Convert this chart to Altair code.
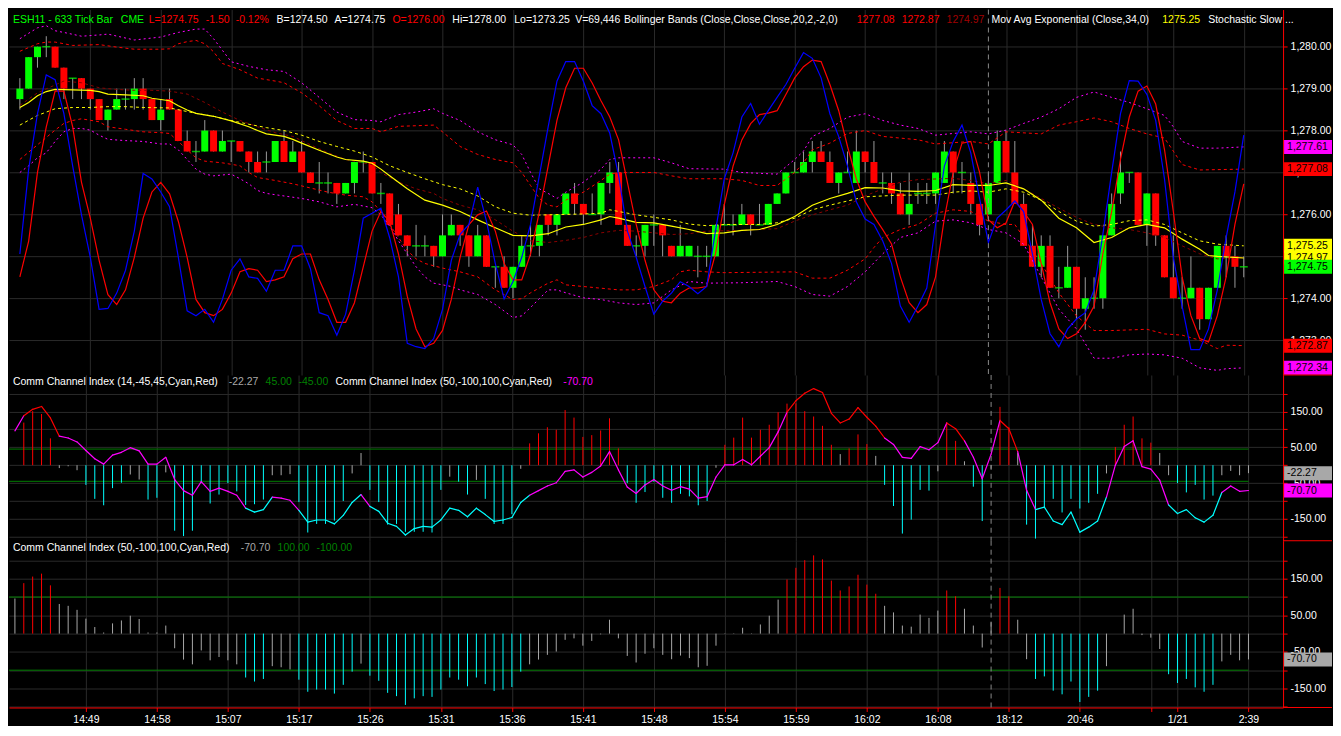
import json
import altair as alt
import pandas as pd

# ---------------- data ----------------
opens = [1278.75, 1279.0, 1279.75, 1280.0, 1280.0, 1279.5, 1279.25, 1279.25, 1279.0, 1278.75,
         1278.25, 1278.5, 1278.75, 1278.75, 1279.0, 1278.75, 1278.25, 1278.75, 1278.5, 1277.75,
         1277.5, 1277.5, 1278.0, 1277.5, 1277.75, 1277.75, 1277.5, 1277.25, 1277.25, 1277.25,
         1277.75, 1277.25, 1277.5, 1277.0, 1276.75, 1276.75, 1276.75, 1276.5, 1276.75, 1277.25,
         1277.25, 1276.5, 1276.5, 1276.0, 1275.5, 1275.25, 1275.25, 1275.25, 1275.0, 1275.5,
         1275.75, 1275.5, 1275.0, 1275.5, 1274.75, 1274.75, 1274.25, 1274.75, 1275.25, 1275.25,
         1276.0, 1275.75, 1276.0, 1276.5, 1276.25, 1276.0, 1276.0, 1276.75, 1277.0, 1275.75,
         1275.25, 1275.25, 1275.75, 1275.75, 1275.25, 1275.0, 1275.0, 1275.0, 1275.0, 1275.0,
         1275.75, 1275.75, 1275.75, 1276.0, 1275.75, 1275.75, 1276.25, 1276.5, 1277.0, 1277.0,
         1277.25, 1277.5, 1277.25, 1276.75, 1277.0, 1276.75, 1277.5, 1277.25, 1276.75, 1276.75,
         1276.5, 1276.0, 1276.5, 1276.5, 1276.5, 1276.75, 1277.5, 1277.0, 1276.75, 1276.25,
         1276.0, 1276.75, 1277.75, 1277.0, 1276.25, 1275.25, 1274.75, 1275.25, 1274.25, 1274.25,
         1274.75, 1273.75, 1274.0, 1274.0, 1275.5, 1276.5, 1277.0, 1277.0, 1275.75, 1276.5,
         1275.5, 1274.5, 1274.0, 1274.0, 1274.25, 1273.5, 1274.25, 1275.25, 1275.0, 1274.75]
closes = [1279.0, 1279.75, 1280.0, 1280.0, 1279.5, 1279.0, 1279.25, 1279.0, 1278.75, 1278.25,
          1278.5, 1278.75, 1278.75, 1279.0, 1278.75, 1278.25, 1278.5, 1278.5, 1277.75, 1277.5,
          1277.5, 1278.0, 1277.5, 1277.75, 1277.75, 1277.5, 1277.25, 1277.0, 1277.25, 1277.75,
          1277.25, 1277.5, 1277.0, 1276.75, 1276.75, 1276.75, 1276.5, 1276.75, 1277.25, 1277.25,
          1276.5, 1276.5, 1275.75, 1275.5, 1275.25, 1275.25, 1275.25, 1275.0, 1275.5, 1275.75,
          1275.5, 1275.0, 1275.5, 1274.75, 1274.75, 1274.25, 1274.75, 1275.25, 1275.25, 1275.75,
          1275.75, 1276.0, 1276.5, 1276.25, 1276.0, 1276.0, 1276.75, 1277.0, 1275.75, 1275.25,
          1275.25, 1275.75, 1275.75, 1275.5, 1275.0, 1275.25, 1275.25, 1275.0, 1275.0, 1275.75,
          1275.75, 1275.75, 1276.0, 1275.75, 1275.75, 1276.25, 1276.5, 1277.0, 1277.0, 1277.25,
          1277.5, 1277.25, 1276.75, 1277.0, 1277.0, 1277.5, 1277.25, 1276.75, 1276.75, 1276.5,
          1276.0, 1276.25, 1276.5, 1276.5, 1277.0, 1277.5, 1277.0, 1277.0, 1276.25, 1275.75,
          1276.75, 1277.75, 1277.0, 1276.25, 1275.25, 1274.75, 1275.25, 1274.25, 1274.25, 1274.75,
          1273.75, 1274.0, 1274.0, 1275.5, 1276.25, 1277.0, 1277.0, 1275.75, 1276.5, 1275.5,
          1274.5, 1274.0, 1274.0, 1274.25, 1273.5, 1274.25, 1275.25, 1275.0, 1274.75, 1274.75]
highs = [1279.25, 1279.75, 1280.0, 1280.25, 1280.0, 1279.5, 1279.25, 1279.25, 1279.0, 1278.75,
         1278.5, 1279.0, 1279.0, 1279.25, 1279.25, 1278.75, 1278.75, 1279.0, 1278.5, 1278.0,
         1277.75, 1278.25, 1278.0, 1278.0, 1277.75, 1277.75, 1277.5, 1277.5, 1277.5, 1277.75,
         1278.0, 1277.75, 1277.75, 1277.0, 1277.25, 1277.0, 1276.75, 1276.75, 1277.25, 1277.5,
         1277.25, 1276.75, 1276.5, 1276.25, 1275.5, 1275.75, 1275.5, 1275.25, 1276.0, 1276.0,
         1275.75, 1275.5, 1275.75, 1275.5, 1274.75, 1275.0, 1274.75, 1275.5, 1275.75, 1275.75,
         1276.0, 1276.0, 1276.5, 1276.75, 1276.25, 1276.5, 1276.75, 1277.25, 1277.25, 1275.75,
         1275.5, 1275.75, 1276.0, 1275.75, 1275.25, 1275.75, 1275.25, 1275.25, 1275.25, 1275.75,
         1276.25, 1276.0, 1276.25, 1276.0, 1276.25, 1276.25, 1276.5, 1277.0, 1277.25, 1277.5,
         1277.75, 1277.75, 1277.5, 1277.0, 1277.5, 1278.0, 1277.5, 1277.75, 1277.0, 1277.0,
         1276.75, 1277.0, 1276.75, 1276.75, 1277.0, 1277.75, 1277.5, 1277.25, 1277.0, 1276.25,
         1277.0, 1278.0, 1278.0, 1277.75, 1276.5, 1275.75, 1275.5, 1275.5, 1274.75, 1275.25,
         1274.75, 1274.5, 1274.5, 1275.5, 1276.5, 1277.5, 1277.0, 1277.0, 1276.5, 1276.5,
         1275.5, 1275.5, 1274.5, 1275.0, 1274.25, 1274.25, 1275.25, 1275.5, 1275.25, 1275.0]
lows = [1278.5, 1279.0, 1279.5, 1279.75, 1279.5, 1278.75, 1278.75, 1278.75, 1278.5, 1278.25,
        1278.0, 1278.5, 1278.5, 1278.5, 1278.5, 1278.25, 1278.0, 1278.5, 1277.75, 1277.5,
        1277.25, 1277.5, 1277.5, 1277.5, 1277.25, 1277.5, 1277.0, 1277.0, 1277.0, 1277.25,
        1277.25, 1277.25, 1277.0, 1276.75, 1276.5, 1276.5, 1276.25, 1276.5, 1276.5, 1277.0,
        1276.5, 1276.25, 1275.75, 1275.5, 1275.0, 1275.0, 1275.0, 1274.75, 1275.0, 1275.5,
        1275.25, 1274.75, 1275.0, 1274.75, 1274.25, 1274.25, 1274.0, 1274.75, 1275.0, 1275.0,
        1275.5, 1275.5, 1276.0, 1276.0, 1275.75, 1276.0, 1275.75, 1276.5, 1275.75, 1275.25,
        1275.0, 1275.0, 1275.25, 1275.0, 1275.0, 1275.0, 1275.0, 1274.5, 1274.75, 1275.0,
        1275.75, 1275.5, 1275.75, 1275.5, 1275.75, 1275.75, 1276.25, 1276.5, 1277.0, 1277.0,
        1277.0, 1277.25, 1276.75, 1276.5, 1277.0, 1276.75, 1277.0, 1276.75, 1276.5, 1276.25,
        1276.0, 1275.75, 1276.25, 1276.25, 1276.25, 1276.75, 1276.5, 1276.5, 1276.0, 1275.5,
        1276.0, 1276.75, 1277.0, 1276.25, 1275.25, 1274.75, 1274.5, 1274.25, 1274.0, 1274.25,
        1273.5, 1273.25, 1273.75, 1273.75, 1275.5, 1276.25, 1276.75, 1275.75, 1275.25, 1275.25,
        1274.5, 1274.0, 1273.75, 1274.0, 1273.25, 1273.5, 1274.25, 1274.5, 1274.25, 1274.5]

stoch_k = [31.8, 60.0, 78.4, 91.3, 89.7, 78.4, 61.0, 44.8, 30.7, 13.4,
           13.7, 18.8, 26.4, 39.4, 58.5, 56.7, 52.4, 47.5, 30.7, 12.9,
           11.3, 13.4, 9.1, 16.7, 26.4, 30.2, 24.2, 23.7, 19.4, 26.4,
           26.4, 34.5, 34.5, 26.9, 12.3, 11.3, 4.8, 11.8, 26.4, 43.7,
           45.3, 47.0, 37.2, 24.2, 2.1, 1.0, 0.4, 3.7, 13.4, 29.7,
           38.3, 41.6, 54.0, 42.6, 28.6, 16.9, 22.6, 30.7, 41.6, 57.8,
           74.0, 89.2, 95.7, 95.7, 89.2, 81.1, 78.4, 71.9, 57.8, 39.4,
           30.7, 21.0, 11.8, 16.1, 18.8, 22.6, 21.0, 18.6, 21.0, 39.4,
           56.7, 65.4, 77.3, 81.8, 74.9, 79.4, 83.8, 88.1, 93.5, 98.7,
           96.8, 90.3, 78.4, 70.8, 61.0, 49.1, 43.4, 41.6, 36.1, 28.6,
           14.5, 9.1, 14.5, 20.5, 41.6, 61.0, 69.2, 74.6, 65.4, 50.2,
           35.6, 43.7, 46.4, 49.4, 45.9, 31.8, 16.7, 5.3, 1.0, 6.9,
           10.2, 12.3, 19.9, 38.3, 58.9, 78.4, 89.4, 89.2, 84.8, 76.2,
           56.7, 30.7, 14.5, 0.0, 0.0, 6.9, 19.9, 37.2, 52.4, 71.3]
stoch_d = [24.2, 36.1, 58.9, 74.0, 85.9, 85.9, 74.0, 55.6, 43.7, 29.7,
           18.3, 15.0, 19.9, 30.7, 43.7, 52.4, 55.6, 51.8, 42.6, 30.7,
           16.7, 12.3, 11.3, 13.4, 18.8, 25.9, 26.9, 26.4, 22.6, 23.2,
           24.2, 30.2, 31.8, 31.8, 23.2, 16.7, 9.1, 9.1, 15.6, 27.5,
           39.4, 45.9, 42.6, 31.8, 17.7, 6.9, 1.0, 2.1, 6.4, 16.7,
           30.7, 41.6, 44.8, 46.1, 39.4, 28.6, 23.2, 23.2, 31.8, 45.9,
           61.0, 76.2, 87.0, 93.5, 93.5, 88.6, 82.7, 77.3, 69.7, 55.6,
           41.6, 29.7, 19.9, 16.1, 15.6, 18.8, 20.5, 20.5, 21.0, 31.8,
           48.1, 61.0, 69.7, 75.1, 78.1, 78.6, 79.4, 84.8, 90.3, 94.0,
           96.2, 95.7, 88.1, 79.4, 67.5, 56.7, 49.1, 44.3, 39.9, 35.1,
           24.2, 15.6, 12.3, 15.0, 24.2, 43.7, 58.9, 68.6, 69.2, 58.9,
           43.2, 40.5, 42.1, 49.4, 45.9, 41.6, 28.6, 15.6, 6.9, 3.7,
           5.3, 9.1, 14.5, 31.8, 45.9, 63.2, 77.3, 85.9, 87.6, 81.6,
           66.5, 45.9, 24.2, 11.3, 3.7, 2.6, 11.3, 24.2, 41.6, 55.1]

cci14 = [0, 119, 151, 143, 75, -8, -3, -14, -55, -94,
         -112, -64, -49, -26, -40, -96, -91, -20, -183, -198,
         -183, -50, -107, -82, -50, -73, -111, -109, -96, -28,
         -28, -25, -103, -188, -164, -164, -155, -100, -23, 34,
         -69, -103, -166, -164, -186, -186, -186, -188, -69, -32,
         -46, -82, -41, -94, -164, -164, -137, -10, 61, 89,
         106, 99, 154, 133, 79, 84, 97, 131, 47, -50,
         -105, -75, -46, -91, -105, -80, -87, -112, -100, -7,
         57, 77, 133, 77, 99, 113, 148, 172, 173, 151,
         136, 110, 57, 31, 47, 86, 59, 26, -55, -114,
         -191, -152, -69, -71, -17, 120, 68, 11, -60, -156,
         -10, 163, 106, 35, -166, -205, -119, -94, -132, -94,
         -121, -105, -80, -23, 51, 113, 136, 75, 63, 34,
         -28, -50, -76, -55, -96, -85, -28, -16, -28, -22.27]
cci50 = [96, 138, 156, 164, 132, 81, 76, 65, 41, 18,
         3, 28, 36, 49, 40, 3, 3, 22, -40, -71,
         -84, -46, -73, -64, -73, -84, -120, -131, -124, -89,
         -92, -98, -126, -159, -153, -153, -164, -140, -104, -82,
         -115, -129, -162, -171, -195, -177, -171, -173, -153, -120,
         -126, -144, -120, -138, -157, -153, -146, -104, -84, -71,
         -58, -49, -17, -13, -33, -20, -2, 38, -13, -61,
         -79, -55, -40, -58, -70, -60, -67, -92, -88, -33,
         1, 1, 16, 1, 25, 49, 93, 148, 180, 201,
         214, 203, 145, 118, 129, 161, 134, 109, 76, 58,
         22, 19, 52, 43, 63, 118, 102, 68, 22, -38,
         31, 125, 102, 38, -70, -124, -117, -156, -166, -131,
         -187, -173, -156, -89, 0, 52, 68, -4, -11, -42,
         -111, -135, -124, -147, -159, -140, -76, -58, -73, -70.70]

bb_upper = [(0, 1279.89), (2, 1280.07), (3, 1280.11), (4, 1280.11), (6, 1280.03), (9, 1280.05), (11, 1279.99),
            (13, 1279.94), (16, 1279.94), (17, 1279.95), (18, 1280.07), (19, 1280.12), (20, 1280.15), (21, 1280.07),
            (22, 1279.88), (23, 1279.60), (25, 1279.45), (27, 1279.25), (29, 1279.18), (30, 1279.14), (32, 1278.90),
            (34, 1278.59), (36, 1278.24), (38, 1278.05), (40, 1278.05), (41, 1277.97), (43, 1278.10), (47, 1278.13),
            (48, 1277.97), (50, 1277.62), (52, 1277.43), (54, 1277.31), (56, 1277.23), (57, 1277.00), (58, 1276.69),
            (59, 1276.38), (60, 1276.22), (61, 1276.18), (62, 1276.34), (64, 1276.53), (66, 1276.81), (67, 1276.96),
            (68, 1277.00), (72, 1277.00), (74, 1276.92), (76, 1276.85), (80, 1276.85), (82, 1276.81), (84, 1276.69),
            (86, 1276.69), (88, 1277.00), (89, 1277.23), (90, 1277.54), (92, 1277.70), (94, 1277.93), (96, 1278.00),
            (98, 1277.86), (100, 1277.82), (102, 1277.78), (104, 1277.68), (108, 1277.74), (110, 1277.68),
            (112, 1277.97), (116, 1277.92), (118, 1278.13), (120, 1278.21), (122, 1278.30), (124, 1278.21),
            (126, 1278.05), (128, 1277.92), (130, 1277.82), (131, 1277.51), (132, 1277.19), (134, 1277.06),
            (139, 1277.08)]
bb_mid = [(0, 1278.60), (2, 1278.90), (5, 1279.18), (7, 1279.14), (9, 1279.02), (11, 1278.98), (13, 1278.96),
          (15, 1278.96), (17, 1278.94), (19, 1278.87), (21, 1278.67), (23, 1278.44), (25, 1278.24), (27, 1278.09),
          (29, 1277.95), (31, 1277.86), (33, 1277.66), (35, 1277.47), (37, 1277.31), (39, 1277.23), (40, 1277.19),
          (41, 1277.00), (43, 1276.77), (45, 1276.61), (47, 1276.50), (48, 1276.38), (50, 1276.22), (52, 1276.11),
          (54, 1275.87), (56, 1275.60), (58, 1275.37), (60, 1275.33), (62, 1275.38), (64, 1275.45), (66, 1275.56),
          (68, 1275.62), (70, 1275.60), (72, 1275.56), (74, 1275.52), (76, 1275.54), (78, 1275.60), (82, 1275.62),
          (84, 1275.64), (86, 1275.66), (88, 1275.84), (90, 1275.99), (92, 1276.11), (94, 1276.22), (96, 1276.44),
          (98, 1276.61), (100, 1276.77), (102, 1276.83), (106, 1276.86), (108, 1276.81), (110, 1276.73),
          (112, 1276.81), (114, 1276.61), (116, 1276.38), (118, 1276.15), (120, 1275.93), (122, 1275.76),
          (124, 1275.68), (126, 1275.64), (128, 1275.56), (130, 1275.45), (132, 1275.25), (134, 1275.06),
          (136, 1274.94), (139, 1274.97)]
bb_lower = [(0, 1277.31), (2, 1277.66), (4, 1278.01), (5, 1278.17), (6, 1278.24), (7, 1278.28), (9, 1278.21),
            (10, 1278.09), (12, 1278.03), (14, 1277.97), (16, 1277.95), (17, 1277.93), (18, 1277.74), (19, 1277.54),
            (20, 1277.35), (21, 1277.27), (23, 1277.23), (25, 1277.16), (26, 1277.00), (27, 1276.88), (29, 1276.81),
            (31, 1276.73), (33, 1276.63), (35, 1276.53), (37, 1276.46), (39, 1276.42), (40, 1276.30), (41, 1276.07),
            (42, 1275.76), (43, 1275.45), (44, 1275.14), (45, 1274.94), (46, 1274.83), (48, 1274.72), (50, 1274.63),
            (52, 1274.51), (54, 1274.20), (56, 1273.97), (57, 1273.99), (58, 1274.13), (60, 1274.36), (61, 1274.44),
            (62, 1274.32), (64, 1274.28), (66, 1274.24), (68, 1274.20), (70, 1274.20), (72, 1274.28), (74, 1274.44),
            (75, 1274.63), (76, 1274.67), (78, 1274.63), (80, 1274.61), (88, 1274.63), (90, 1274.48), (92, 1274.48),
            (94, 1274.67), (96, 1274.94), (97, 1275.21), (98, 1275.45), (100, 1275.64), (102, 1275.76),
            (104, 1276.03), (106, 1276.11), (108, 1276.07), (110, 1275.84), (112, 1275.76), (113, 1275.76),
            (114, 1275.45), (116, 1274.83), (118, 1274.13), (120, 1273.58), (122, 1273.23), (124, 1273.23),
            (128, 1273.26), (130, 1273.15), (132, 1273.12), (134, 1273.00), (136, 1272.80), (137, 1272.88),
            (139, 1272.87)]
env_upper = [(0, 1280.19), (2, 1280.45), (3, 1280.50), (4, 1280.38), (5, 1280.34), (7, 1280.25), (9, 1280.28),
             (10, 1280.30), (13, 1280.16), (16, 1280.23), (18, 1280.34), (20, 1280.42), (21, 1280.42), (22, 1280.19),
             (24, 1279.64), (26, 1279.53), (28, 1279.45), (30, 1279.41), (32, 1279.14), (34, 1278.79), (36, 1278.44),
             (38, 1278.26), (40, 1278.24), (41, 1278.21), (43, 1278.38), (45, 1278.44), (47, 1278.52), (48, 1278.41),
             (50, 1278.24), (52, 1277.97), (54, 1277.78), (56, 1277.66), (57, 1277.43), (58, 1277.00), (59, 1276.61),
             (60, 1276.50), (61, 1276.38), (62, 1276.53), (64, 1276.77), (66, 1277.08), (67, 1277.31), (68, 1277.35),
             (72, 1277.35), (74, 1277.23), (76, 1277.09), (80, 1277.08), (82, 1277.00), (86, 1276.96), (88, 1277.31),
             (89, 1277.51), (90, 1277.86), (92, 1278.05), (94, 1278.32), (96, 1278.40), (98, 1278.24), (100, 1278.13),
             (102, 1278.05), (104, 1277.89), (106, 1277.93), (108, 1277.97), (110, 1277.92), (112, 1278.01),
             (114, 1278.17), (116, 1278.32), (118, 1278.52), (120, 1278.79), (122, 1278.92), (124, 1278.79),
             (126, 1278.67), (128, 1278.52), (130, 1278.36), (131, 1278.09), (132, 1277.74), (134, 1277.58),
             (136, 1277.58), (139, 1277.61)]
env_lower = [(0, 1277.00), (1, 1277.16), (2, 1277.35), (3, 1277.47), (4, 1277.74), (5, 1277.97), (6, 1278.05),
             (7, 1278.05), (8, 1278.01), (9, 1277.89), (10, 1277.79), (12, 1277.76), (14, 1277.74), (16, 1277.68),
             (17, 1277.68), (18, 1277.54), (19, 1277.31), (20, 1277.08), (21, 1276.96), (22, 1276.92), (24, 1276.96),
             (25, 1276.85), (26, 1276.73), (27, 1276.57), (28, 1276.50), (30, 1276.44), (32, 1276.38), (34, 1276.30),
             (36, 1276.18), (38, 1276.24), (40, 1276.16), (41, 1275.99), (42, 1275.72), (43, 1275.37), (44, 1275.06),
             (45, 1274.75), (46, 1274.51), (47, 1274.36), (49, 1274.28), (50, 1274.20), (52, 1274.09), (54, 1273.85),
             (56, 1273.54), (57, 1273.58), (58, 1273.78), (60, 1274.20), (61, 1274.20), (62, 1274.13), (64, 1274.01),
             (66, 1273.97), (68, 1273.89), (70, 1273.85), (72, 1273.89), (74, 1274.20), (76, 1274.40), (78, 1274.36),
             (82, 1274.37), (86, 1274.40), (88, 1274.28), (90, 1274.09), (92, 1274.05), (94, 1274.28), (96, 1274.63),
             (98, 1275.06), (100, 1275.45), (102, 1275.56), (104, 1275.84), (106, 1275.87), (108, 1275.80),
             (110, 1275.64), (112, 1275.56), (114, 1275.29), (116, 1274.51), (118, 1273.74), (120, 1273.27),
             (122, 1272.57), (124, 1272.57), (126, 1272.65), (128, 1272.67), (130, 1272.65), (132, 1272.57),
             (134, 1272.34), (136, 1272.28), (137, 1272.32), (139, 1272.34)]
ma_solid = [(0, 1278.55), (1, 1278.67), (2, 1278.83), (3, 1278.93), (4, 1278.98), (8, 1278.96), (9, 1278.93),
            (10, 1278.87), (12, 1278.85), (14, 1278.83), (15, 1278.77), (17, 1278.71), (18, 1278.59), (19, 1278.49),
            (20, 1278.41), (22, 1278.34), (24, 1278.23), (26, 1278.09), (27, 1278.00), (28, 1277.92), (30, 1277.86),
            (31, 1277.79), (32, 1277.70), (34, 1277.53), (36, 1277.37), (37, 1277.31), (39, 1277.27), (40, 1277.22),
            (41, 1277.08), (42, 1276.92), (44, 1276.61), (46, 1276.34), (48, 1276.22), (50, 1276.07), (52, 1275.87),
            (54, 1275.68), (56, 1275.50), (58, 1275.49), (60, 1275.54), (62, 1275.70), (64, 1275.76), (66, 1275.87),
            (67, 1275.95), (68, 1275.91), (70, 1275.81), (72, 1275.80), (74, 1275.72), (76, 1275.64), (78, 1275.54),
            (80, 1275.56), (82, 1275.62), (84, 1275.64), (86, 1275.76), (88, 1275.95), (90, 1276.22), (92, 1276.38),
            (94, 1276.50), (96, 1276.64), (98, 1276.63), (100, 1276.56), (102, 1276.55), (104, 1276.57),
            (106, 1276.71), (108, 1276.69), (110, 1276.69), (112, 1276.75), (114, 1276.61), (116, 1276.34),
            (118, 1275.91), (120, 1275.68), (122, 1275.33), (124, 1275.45), (126, 1275.68), (128, 1275.76),
            (130, 1275.68), (132, 1275.41), (134, 1275.17), (135, 1275.02), (136, 1275.00), (139, 1274.96)]
ma_dashed = [(0, 1278.13), (2, 1278.36), (4, 1278.52), (6, 1278.55), (8, 1278.55), (10, 1278.57), (12, 1278.57),
             (14, 1278.55), (17, 1278.54), (20, 1278.41), (22, 1278.34), (24, 1278.24), (26, 1278.15), (28, 1278.07),
             (30, 1278.00), (32, 1277.89), (34, 1277.74), (36, 1277.62), (38, 1277.51), (40, 1277.37), (42, 1277.16),
             (44, 1277.00), (46, 1276.85), (48, 1276.71), (50, 1276.61), (52, 1276.44), (54, 1276.18), (56, 1276.03),
             (58, 1275.98), (60, 1275.99), (64, 1276.01), (66, 1276.03), (67, 1276.11), (68, 1276.07), (70, 1275.99),
             (72, 1275.93), (74, 1275.87), (76, 1275.77), (78, 1275.73), (80, 1275.76), (84, 1275.76), (86, 1275.80),
             (88, 1275.91), (90, 1276.11), (92, 1276.22), (94, 1276.32), (96, 1276.42), (100, 1276.46),
             (104, 1276.46), (106, 1276.53), (108, 1276.56), (110, 1276.53), (112, 1276.61), (114, 1276.53),
             (116, 1276.34), (118, 1276.07), (120, 1275.84), (122, 1275.72), (124, 1275.76), (126, 1275.85),
             (128, 1275.87), (130, 1275.76), (132, 1275.56), (134, 1275.37), (136, 1275.29), (139, 1275.25)]

tick_idx = [8, 16, 24, 32, 40, 48, 56, 64, 72, 80, 88, 96, 104, 112, 120, 128, 131, 139]
tick_lbl = ["14:49", "14:58", "15:07", "15:17", "15:26", "15:31", "15:36", "15:41", "15:48",
            "15:54", "15:59", "16:02", "16:08", "18:12", "20:46", "", "1/21", "2:39"]
session_break = [110]

price_tags = [1277.61, 1277.08, 1275.25, 1274.97, 1274.75, 1272.87, 1272.34]
cci14_tags = [-22.27, -70.70]
cci50_tags = [-70.70]

header_text = ["ESH11 - 633 Tick Bar", "CME", "L=1274.75", "-1.50", "-0.12%", "B=1274.50", "A=1274.75",
               "O=1276.00", "Hi=1278.00", "Lo=1273.25", "V=69,446",
               "Bollinger Bands (Close,Close,Close,20,2,-2,0)", "1277.08", "1272.87", "1274.97",
               "Mov Avg Exponential (Close,34,0)", "1275.25", "Stochastic Slow ..."]
title2_text = ["Comm Channel Index (14,-45,45,Cyan,Red)", "-22.27", "45.00", "-45.00",
               "Comm Channel Index (50,-100,100,Cyan,Red)", "-70.70"]
title3_text = ["Comm Channel Index (50,-100,100,Cyan,Red)", "-70.70", "100.00", "-100.00"]

# ---------------- styles ----------------
GREEN = "#00ff00"
RED = "#ff0000"
DKRED = "#8b0000"
YELLOW = "#ffff00"
MAGENTA = "#ff00ff"
BLUE = "#0000ff"
CYAN = "#00ffff"
GRAY = "#a8a8a8"
WICK = "#9a9a9a"
DKGREEN = "#008000"
WHITE = "#ffffff"
GRID = "#2a2a2a"
FONT = "Arial"
FS = 10.5

header_x = [4, 112, 140, 197, 227, 268, 326, 384, 444, 506, 567, 616, 849, 894, 939, 984, 1155, 1201]
header_col = [GREEN, GREEN, RED, RED, RED, WHITE, WHITE, RED, WHITE, WHITE, WHITE, WHITE, RED, RED,
              "#a00000", WHITE, YELLOW, WHITE]
title2_x = [4, 220, 257, 290, 327, 555]
title2_col = [WHITE, GRAY, DKGREEN, DKGREEN, WHITE, MAGENTA]
title3_x = [4, 232, 269, 308]
title3_col = [WHITE, GRAY, DKGREEN, DKGREEN]
price_tag_col = [MAGENTA, RED, YELLOW, YELLOW, GREEN, RED, MAGENTA]
cci14_tag_col = [GRAY, MAGENTA]
cci50_tag_col = [GRAY]

W = 1276
H1, H2, H3 = 366, 166, 167
X_DOM = [-0.667, 142.9]
P_DOM = [1272.17, 1280.886]
S_DOM = [-8.4, 113.0]
C2_DOM = [-211, 252]
C3_DOM = [-202, 254]
AX_W = 49

N = len(opens)
idx = list(range(N))

# ---------------- shared encodings ----------------
xscale = alt.Scale(domain=X_DOM, nice=False, zero=False)
x_hidden = alt.Axis(values=tick_idx, labels=False, ticks=False, domain=False, grid=True, title=None)
label_expr = "%s[indexof(%s, datum.value)]" % (json.dumps(tick_lbl), json.dumps(tick_idx))
x_bottom = alt.Axis(values=tick_idx, labelExpr=label_expr, grid=True, domain=True, ticks=True,
                    title=None, labelOverlap=False, labelFlush=False, labelPadding=3)


def X(field="i", axis=x_hidden):
    return alt.X(f"{field}:Q", scale=xscale, axis=axis)


pscale = alt.Scale(domain=P_DOM, nice=False, zero=False)
p_axis = alt.Axis(orient="right", values=list(range(1273, 1281)), format=",.2f", grid=True,
                  title=None, labelOverlap=False)


def PY(field):
    return alt.Y(f"{field}:Q", scale=pscale, axis=p_axis)


cci_label = ("abs(datum.value) % 100 == 50 ? (datum.value < 0 ? '-' : '') + "
             "format(abs(datum.value), '.2f') : ''")


def cci_y(field, dom):
    return alt.Y(f"{field}:Q", scale=alt.Scale(domain=dom, nice=False, zero=False),
                 axis=alt.Axis(orient="right", values=list(range(-200, 201, 50)), labelExpr=cci_label,
                               grid=True, title=None, labelOverlap=False))


def text_layers(texts, xs, cols, y):
    out = []
    for t, xp, c in zip(texts, xs, cols):
        out.append(alt.Chart(pd.DataFrame({"t": [t]})).mark_text(
            align="left", baseline="middle", font=FONT, fontSize=FS, color=c
        ).encode(x=alt.value(xp), y=alt.value(y), text="t:N"))
    return out


def tag_layers(values, cols, yenc_fn):
    out = []
    for v, c in zip(values, cols):
        d = pd.DataFrame({"v": [v], "lab": [f"{v:,.2f}"]})
        out.append(alt.Chart(d).mark_tick(orient="horizontal", size=48, thickness=14, color=c, opacity=1)
                   .encode(x=alt.value(W + 25), y=yenc_fn("v")))
        out.append(alt.Chart(d).mark_text(align="left", baseline="middle", font=FONT, fontSize=FS,
                                          color="#000000")
                   .encode(x=alt.value(W + 4), y=yenc_fn("v"), text="lab:N"))
    return out


def sep_rule(h):
    return alt.Chart(pd.DataFrame({"a": [0]})).mark_rule(color=RED, strokeWidth=1).encode(
        x=alt.value(W), x2=alt.value(W + AX_W), y=alt.value(h))


def session_rule(axis=x_hidden):
    return alt.Chart(pd.DataFrame({"i": session_break})).mark_rule(
        color="#8a8a8a", strokeDash=[5, 4], strokeWidth=1).encode(x=X("i", axis))


# ---------------- top panel ----------------
cdf = pd.DataFrame({"i": idx, "o": opens, "h": highs, "l": lows, "c": closes})
cdf["kind"] = ["doji" if c == o else ("up" if c > o else "down") for o, c in zip(opens, closes)]
cdf["col"] = cdf["kind"].map({"up": GREEN, "down": RED, "doji": GREEN})

wicks = alt.Chart(cdf).mark_rule(color=WICK, strokeWidth=1).encode(x=X(), y=PY("l"), y2="h:Q")
bodies = alt.Chart(cdf[cdf.kind != "doji"]).mark_bar(size=7).encode(
    x=X(), y=PY("o"), y2="c:Q", color=alt.Color("col:N", scale=None))
dojis = alt.Chart(cdf[cdf.kind == "doji"]).mark_tick(
    orient="horizontal", size=8, thickness=1.5, color=GREEN).encode(x=X(), y=PY("c"))


def band(pts, color, dash=None, width=1.0):
    d = pd.DataFrame(pts, columns=["i", "v"])
    kw = dict(color=color, strokeWidth=width)
    if dash:
        kw["strokeDash"] = dash
    return alt.Chart(d).mark_line(**kw).encode(x=X(), y=PY("v"))


bands = [
    band(env_upper, MAGENTA, [2, 3]),
    band(env_lower, MAGENTA, [2, 3]),
    band(bb_upper, RED, [3, 3]),
    band(bb_lower, RED, [3, 3]),
    band(bb_mid, DKRED, [3, 3]),
    band(ma_dashed, YELLOW, [3, 3]),
    band(ma_solid, YELLOW, None, 1.2),
]

price_layer = alt.layer(wicks, bodies, dojis, *bands,
                        *tag_layers(price_tags, price_tag_col, PY))

sdf = pd.DataFrame({"i": idx, "k": stoch_k, "d": stoch_d})
sscale = alt.Scale(domain=S_DOM, nice=False, zero=False)
stoch_layer = alt.layer(
    alt.Chart(sdf).mark_line(color=RED, strokeWidth=1.2).encode(
        x=X(), y=alt.Y("d:Q", scale=sscale, axis=None)),
    alt.Chart(sdf).mark_line(color=BLUE, strokeWidth=1.2).encode(
        x=X(), y=alt.Y("k:Q", scale=sscale, axis=None)),
)

top = alt.layer(price_layer, stoch_layer, session_rule(), sep_rule(H1),
                *text_layers(header_text, header_x, header_col, 10)
                ).resolve_scale(y="independent").properties(width=W, height=H1)


# ---------------- CCI panels ----------------
def hist_color(v, lim):
    return RED if v > lim else (CYAN if v < -lim else GRAY)


def cci_panel(values, lim, dom, height, xaxis, titles, tags, extra_line=None):
    yf = lambda f: cci_y(f, dom)
    hdf = pd.DataFrame({"i": idx, "v": values, "z": [0] * N,
                        "col": [hist_color(v, lim) for v in values]})
    bars = alt.Chart(hdf).mark_rule(strokeWidth=1).encode(
        x=X("i", xaxis), y=yf("z"), y2="v:Q", color=alt.Color("col:N", scale=None))
    ldf = pd.DataFrame({"lvl": [lim, -lim], "x0": [X_DOM[0]] * 2, "x1": [N - 1] * 2})
    levels = alt.Chart(ldf).mark_rule(color=DKGREEN, strokeWidth=1).encode(
        x=X("x0", xaxis), x2="x1:Q", y=yf("lvl"))
    layers = [levels, bars]
    if extra_line is not None:
        seg = pd.DataFrame({"i": idx[:-1], "i2": idx[1:], "v": extra_line[:-1], "v2": extra_line[1:]})
        seg["col"] = [MAGENTA if -100 <= v <= 100 else (RED if v > 100 else CYAN) for v in seg["v"]]
        layers.append(alt.Chart(seg).mark_rule(strokeWidth=1.2, strokeCap="round").encode(
            x=X("i", xaxis), x2="i2:Q", y=yf("v"), y2="v2:Q", color=alt.Color("col:N", scale=None)))
    layers.append(session_rule(xaxis))
    layers += tag_layers(tags[0], tags[1], yf)
    layers.append(sep_rule(height))
    layers += text_layers(titles[0], titles[1], titles[2], 7)
    return alt.layer(*layers).properties(width=W, height=height)


mid = cci_panel(cci14, 45, C2_DOM, H2, x_hidden, (title2_text, title2_x, title2_col),
                (cci14_tags, cci14_tag_col), extra_line=cci50)
bot = cci_panel(cci50, 100, C3_DOM, H3, x_bottom, (title3_text, title3_x, title3_col),
                (cci50_tags, cci50_tag_col))

chart = alt.vconcat(top, mid, bot, spacing=0, bounds="flush").properties(
    background="#000000", padding=0
).configure_view(stroke=None).configure_axis(
    labelFont=FONT, labelFontSize=FS, labelColor=WHITE, tickColor=RED, domainColor=RED,
    gridColor=GRID, gridWidth=1, tickSize=4, labelPadding=3, domainWidth=1, tickWidth=1
)

chart.save("out.html", embed_options={"renderer": "svg", "actions": False})
